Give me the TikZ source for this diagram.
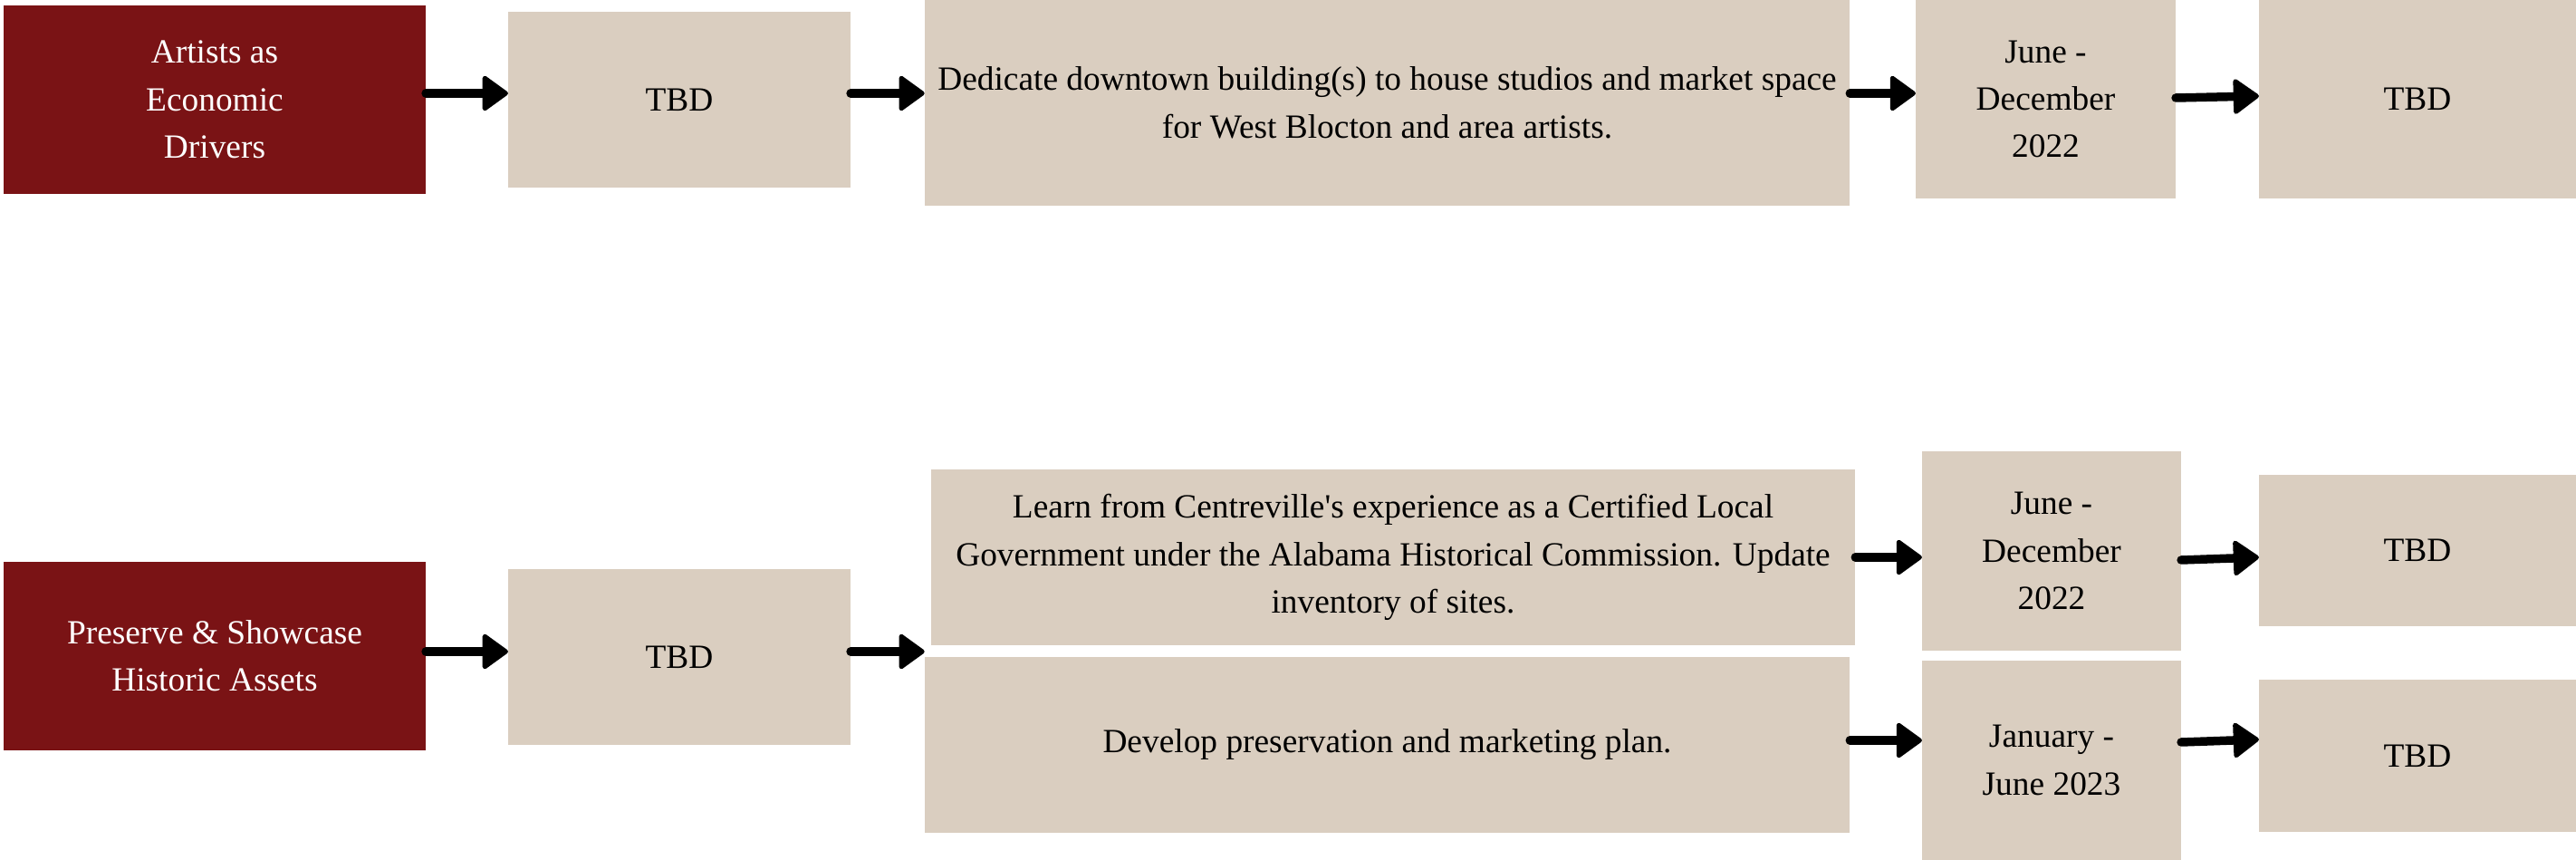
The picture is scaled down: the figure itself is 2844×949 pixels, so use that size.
\documentclass[tikz,border=0pt]{standalone}
\usepackage{fontspec}
\setmainfont{Liberation Serif}
\usetikzlibrary{arrows.meta}
\definecolor{dred}{HTML}{7A1315}
\definecolor{beige}{HTML}{DACEC0}
\tikzset{
  boxbase/.style={inner sep=0pt, outer sep=0pt, align=center,
    font={\fontsize{10.63}{14.9}\selectfont}},
  redbox/.style={boxbase, fill=dred, text=white},
  tanbox/.style={boxbase, fill=beige, text=black},
  arr/.style={line width=0.095cm, line cap=round,
    -{Triangle[length=0.30cm,width=0.42cm,line width=0.05cm,round]}}
}
\begin{document}
\begin{tikzpicture}[x=0.01cm,y=-0.01cm]
\useasboundingbox[fill=white] (0,0) rectangle (2844,949);
% Row 1
\node[redbox, minimum width=4.66cm, minimum height=2.08cm] (red1) at (237,110) {Artists as\\Economic\\Drivers};
\node[tanbox, minimum width=3.78cm, minimum height=1.94cm] (tbd1) at (750,110) {TBD};
\node[tanbox, minimum width=10.21cm, minimum height=2.27cm] (big1) at (1531.5,113.5) {Dedicate downtown building(s) to house studios and market space\\for West Blocton and area artists.};
\node[tanbox, minimum width=2.87cm, minimum height=2.19cm] (date1) at (2258.5,109.5) {June -\\December\\2022};
\node[tanbox, minimum width=3.50cm, minimum height=2.19cm] (tbd1r) at (2669,109.5) {TBD};
% Row 2
\node[redbox, minimum width=4.66cm, minimum height=2.08cm] (red2) at (237,724) {Preserve \& Showcase\\Historic Assets};
\node[tanbox, minimum width=3.78cm, minimum height=1.94cm] (tbd2) at (750,725) {TBD};
\node[tanbox, minimum width=10.20cm, minimum height=1.94cm] (learn) at (1538,615) {Learn from Centreville\textquotesingle s experience as a Certified Local\\Government under the Alabama Historical Commission. Update\\inventory of sites.};
\node[tanbox, minimum width=10.21cm, minimum height=1.94cm] (dev) at (1531.5,822) {Develop preservation and marketing plan.};
\node[tanbox, minimum width=2.86cm, minimum height=2.20cm] (date2) at (2265,608) {June -\\December\\2022};
\node[tanbox, minimum width=2.86cm, minimum height=2.20cm] (date3) at (2265,839) {January -\\June 2023};
\node[tanbox, minimum width=3.50cm, minimum height=1.67cm] (tbd2r) at (2669,607.5) {TBD};
\node[tanbox, minimum width=3.50cm, minimum height=1.68cm] (tbd3r) at (2669,834) {TBD};
% Arrows row 1
\draw[arr] (red1.east |- 0,103) -- (tbd1.west |- 0,103);
\draw[arr] (tbd1.east |- 0,103) -- (big1.west |- 0,103);
\draw[arr] (big1.east |- 0,103) -- (date1.west |- 0,103);
\draw[arr] (date1.east |- 0,108) -- (tbd1r.west |- 0,106);
% Arrows row 2
\draw[arr] (red2.east |- 0,719) -- (tbd2.west |- 0,719);
\draw[arr] (tbd2.east |- 0,719) -- (dev.west |- 0,719);
\draw[arr] (learn.east |- 0,615) -- (date2.west |- 0,615);
\draw[arr] (date2.east |- 0,618) -- (tbd2r.west |- 0,615);
\draw[arr] (dev.east |- 0,817) -- (date3.west |- 0,817);
\draw[arr] (date3.east |- 0,819) -- (tbd3r.west |- 0,816);
\end{tikzpicture}
\end{document}
